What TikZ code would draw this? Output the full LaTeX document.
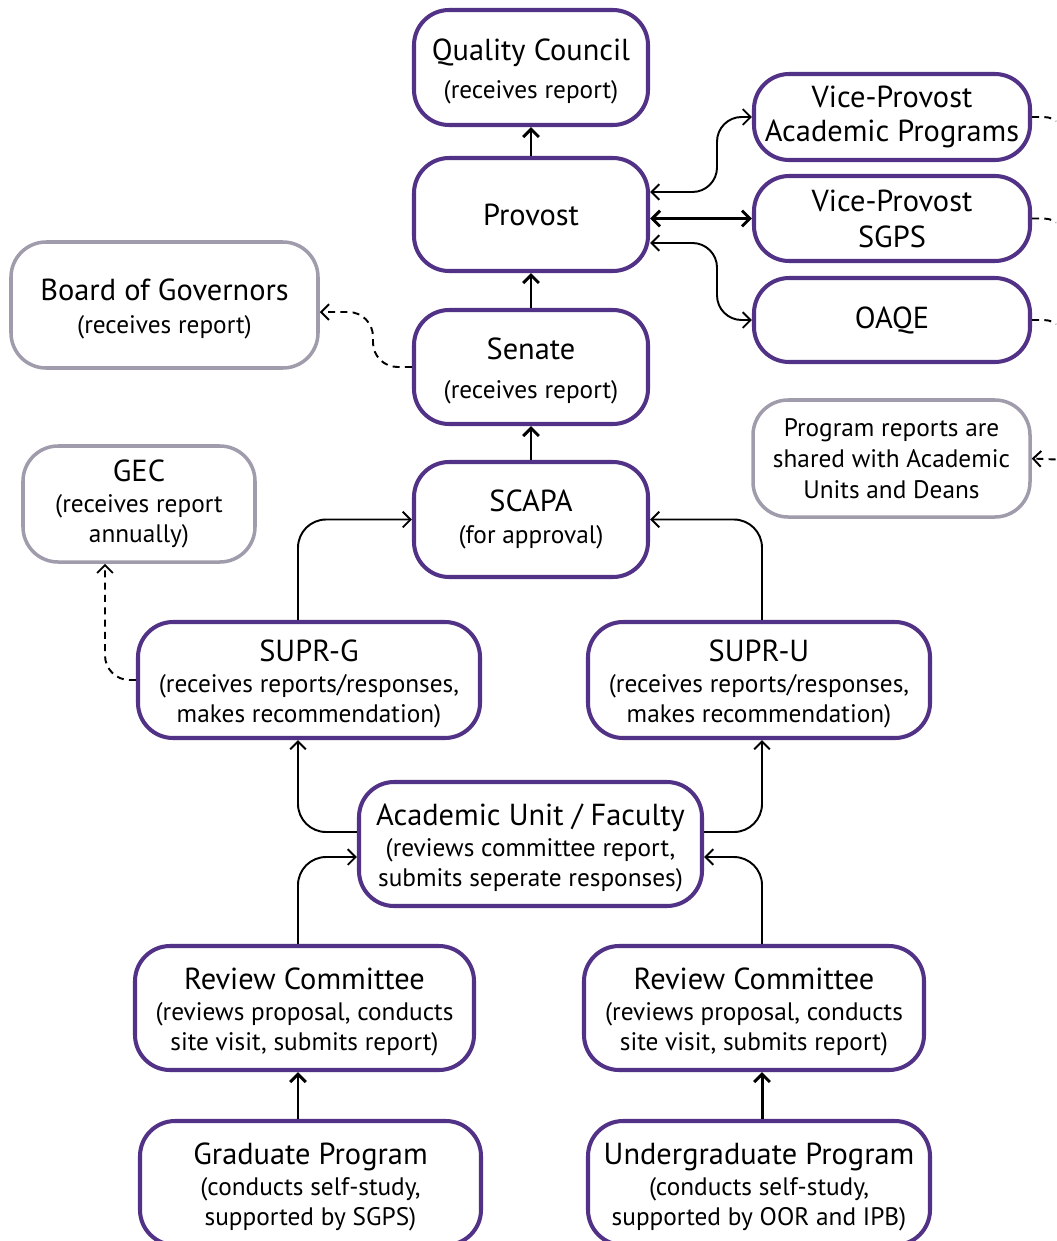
\documentclass[tikz,border=0pt]{standalone}
\usepackage{fontspec}
\setmainfont{PT Sans}
\usetikzlibrary{calc,arrows.meta}

\definecolor{qpurple}{RGB}{82,50,134}
\definecolor{qgrey}{RGB}{160,156,172}
\newcommand{\notefont}{\fontsize{14.4}{17}\selectfont}
\newcommand{\topstrut}{\rule{0pt}{17pt}}

\begin{document}
\begin{tikzpicture}[x=0.02cm,y=-0.02cm,
    >={Straight Barb[length=4.5pt,width=9pt]},
    box/.style={draw=qpurple,line width=2.3pt,rounded corners=20pt,fill=white,
      align=center,inner sep=0pt,font=\fontsize{17.3}{17.5}\selectfont},
    boxsize/.style 2 args={minimum width=#1*0.02cm,minimum height=#2*0.02cm},
    infobox/.style={box,draw=qgrey,line width=2pt},
    flow/.style={->,line width=1.1pt,rounded corners=16pt},
    mainflow/.style={->,line width=1.7pt},
    both/.style={<->,line width=1.1pt,rounded corners=14pt},
    dashline/.style={line width=1.1pt,dash pattern=on 4pt off 3pt,rounded corners=14pt},
    report/.style={->,dashline}]
  \useasboundingbox (0,0) rectangle (1056,1241);
  \clip (0,0) rectangle (1056,1241);
  \coordinate (colL) at (298,0);
  \coordinate (colR) at (762,0);
  \coordinate (rail) at (1068,460);
  % central column
  \node[box,boxsize={234}{115}] (qc) at (531,67.5)
    {\topstrut Quality Council\\[4pt]{\notefont(receives report)}};
  \node[box,boxsize={234}{113}] (prov) at (531,214.5) {Provost};
  \node[box,boxsize={234}{114}] (sen) at (531,367)
    {\topstrut Senate\\[5pt]{\notefont(receives report)}};
  \node[box,boxsize={234}{115}] (scapa) at (531,519.5)
    {SCAPA\\[1pt]{\notefont(for approval)}};
  % side boxes
  \node[infobox,boxsize={307}{126}] (bog) at (164.5,305)
    {\topstrut Board of Governors\\[1pt]{\notefont(receives report)}};
  \node[infobox,boxsize={232}{116}] (gec) at (139,504)
    {GEC\\{\notefont(receives report}\\{\notefont annually)}};
  \node[box,boxsize={276}{86}] (vpap) at (892,117)
    {Vice-Provost\\[2pt]Academic Programs};
  \node[box,boxsize={276}{85}] (vpsg) at (892,218.5)
    {Vice-Provost\\[3pt]SGPS};
  \node[box,boxsize={276}{84}] (oaqe) at (892,320) {OAQE};
  \node[infobox,boxsize={277}{117}] (prep) at (891.5,458.5)
    {\notefont Program reports are\\\notefont shared with Academic\\\notefont Units and Deans};
  % review chain
  \node[box,boxsize={342}{116}] (suprg) at (309,680)
    {\topstrut SUPR-G\\{\notefont(receives reports/responses,}\\{\notefont makes recommendation)}};
  \node[box,boxsize={342}{116}] (supru) at (759,680)
    {\topstrut SUPR-U\\{\notefont(receives reports/responses,}\\{\notefont makes recommendation)}};
  \node[box,boxsize={343}{124}] (acu) at (530.5,844)
    {\topstrut Academic Unit / Faculty\\{\notefont(reviews committee report,}\\{\notefont submits seperate responses)}};
  \node[box,boxsize={339}{124}] (rcl) at (304.5,1008)
    {\topstrut Review Committee\\{\notefont(reviews proposal, conducts}\\{\notefont site visit, submits report)}};
  \node[box,boxsize={340}{124}] (rcr) at (754,1008)
    {\topstrut Review Committee\\{\notefont(reviews proposal, conducts}\\{\notefont site visit, submits report)}};
  \node[box,boxsize={341}{124}] (gp) at (310.5,1183)
    {\topstrut Graduate Program\\{\notefont(conducts self-study,}\\{\notefont supported by SGPS)}};
  \node[box,boxsize={342}{124}] (ugp) at (759,1183)
    {\topstrut Undergraduate Program\\{\notefont(conducts self-study,}\\{\notefont supported by OOR and IPB)}};
  % connectors
  \draw[mainflow] (prov) -- (qc);
  \draw[mainflow] (sen) -- (prov);
  \draw[mainflow] (scapa) -- (sen);
  \draw[report] (sen.west) -- ++(-39,0) |- ([yshift=-4pt]bog.east);
  \draw[both] ($(prov.east)+(0,-22.5)$) -- ++(67,0) |- (vpap.west);
  \draw[<->,line width=1.7pt] (vpsg.west -| prov.east) -- (vpsg.west);
  \draw[both] ($(prov.east)+(0,28.5)$) -- ++(67,0) |- (oaqe.west);
  \draw[dashline] (vpap.east) -| (rail);
  \draw[dashline] (vpsg.east) -| (rail);
  \draw[dashline] (oaqe.east) -| (rail);
  \draw[report] (rail) -- (prep.east);
  \draw[flow] (suprg.north -| colL) |- (scapa.west);
  \draw[flow] (supru.north -| colR) |- (scapa.east);
  \draw[report] (suprg.west) -| ($(gec.south)+(-34,0)$);
  \draw[flow] ($(acu.west)+(0,-12)$) -| (suprg.south -| colL);
  \draw[flow] ($(acu.east)+(0,-12)$) -| (supru.south -| colR);
  \draw[flow] (rcl.north -| colL) |- ($(acu.west)+(0,13)$);
  \draw[flow] (rcr.north -| colR) |- ($(acu.east)+(0,13)$);
  \draw[mainflow] (gp.north -| colL) -- (rcl.south -| colL);
  \draw[mainflow] (ugp.north -| colR) -- (rcr.south -| colR);
\end{tikzpicture}
\end{document}
